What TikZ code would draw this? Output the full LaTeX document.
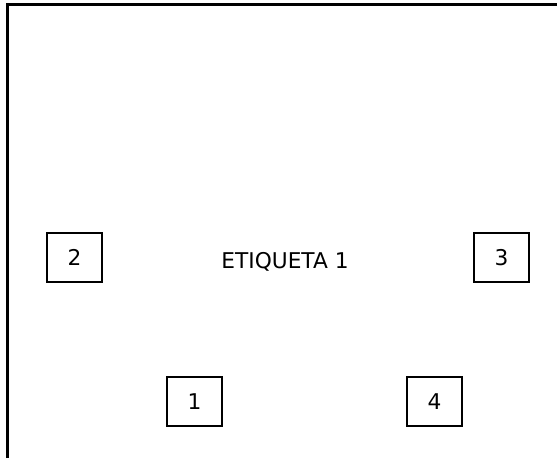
\documentclass[tikz,border=0pt]{standalone}
\usepackage{fontspec}
\setmainfont{DejaVu Sans}
\begin{document}
\begin{tikzpicture}[x=1pt,y=-1pt,
  numbox/.style={draw=black,line width=2.6pt,minimum width=55pt,minimum height=49pt,inner sep=0pt,font=\fontsize{21.7}{26}\selectfont},
  lbl/.style={inner sep=0pt,font=\fontsize{21.7}{26}\selectfont}]
\useasboundingbox (0,0) rectangle (557,458);
\coordinate (tl) at (7.5,4.5);
\coordinate (tr) at (557,4.5);
\coordinate (bl) at (7.5,458);
\draw[line width=2.6pt] (bl) -- (tl) -- (tr);
\node[numbox] (n2) at (74.5,257.5) {2};
\node[numbox] (n3) at (501.5,257.5) {3};
\node[numbox] (n1) at (194.5,401.5) {1};
\node[numbox] (n4) at (434.5,401.5) {4};
\node[lbl] (e1) at (285,262) {ETIQUETA 1};
\end{tikzpicture}
\end{document}
